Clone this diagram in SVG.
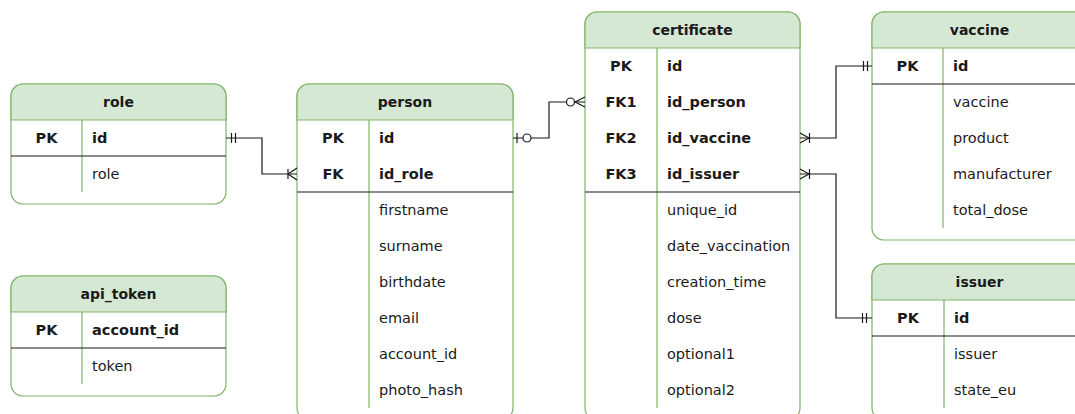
<svg xmlns="http://www.w3.org/2000/svg" width="1075" height="414" viewBox="0 0 1075 414">
<style>
.box{fill:#ffffff;stroke:#82b366;stroke-width:1.2}
.hd{fill:#d5e8d4;stroke:#82b366;stroke-width:1.2}
.dv{stroke:#82b366;stroke-width:1.2;fill:none}
.sp{stroke:#1a1a1a;stroke-width:1.2;fill:none}
text{font-family:"DejaVu Sans","Verdana",sans-serif;fill:#1a1a1a}
.h{font-size:14px;font-weight:bold;text-anchor:middle}
.k{font-size:14.5px;font-weight:bold;text-anchor:middle}
.fb{font-size:14.5px;font-weight:bold}
.f{font-size:14.5px}
.ln{stroke:#1a1a1a;stroke-width:1.2;fill:none}
.ci{stroke:#1a1a1a;stroke-width:1.2;fill:#ffffff}
</style>
<g id="role">
<rect class="box" x="11" y="84" width="215" height="120" rx="12"/>
<path class="hd" d="M11 120 V96 A12 12 0 0 1 23 84 H214 A12 12 0 0 1 226 96 V120 Z"/>
<line class="dv" x1="82" y1="120" x2="82" y2="192"/>
<line class="sp" x1="11" y1="156" x2="226" y2="156"/>
<text class="h" x="118.5" y="107">role</text>
<text class="k" x="46.5" y="143">PK</text>
<text class="fb" x="92" y="143">id</text>
<text class="f" x="92" y="179">role</text>
</g>
<g id="api_token">
<rect class="box" x="11" y="276" width="215" height="120" rx="12"/>
<path class="hd" d="M11 312 V288 A12 12 0 0 1 23 276 H214 A12 12 0 0 1 226 288 V312 Z"/>
<line class="dv" x1="82" y1="312" x2="82" y2="384"/>
<line class="sp" x1="11" y1="348" x2="226" y2="348"/>
<text class="h" x="118.5" y="299">api_token</text>
<text class="k" x="46.5" y="335">PK</text>
<text class="fb" x="92" y="335">account_id</text>
<text class="f" x="92" y="371">token</text>
</g>
<g id="person">
<rect class="box" x="297" y="84" width="216" height="336" rx="12"/>
<path class="hd" d="M297 120 V96 A12 12 0 0 1 309 84 H501 A12 12 0 0 1 513 96 V120 Z"/>
<line class="dv" x1="369" y1="120" x2="369" y2="408"/>
<line class="sp" x1="297" y1="192" x2="513" y2="192"/>
<text class="h" x="405" y="107">person</text>
<text class="k" x="333" y="143">PK</text>
<text class="fb" x="379" y="143">id</text>
<text class="k" x="333" y="179">FK</text>
<text class="fb" x="379" y="179">id_role</text>
<text class="f" x="379" y="215">firstname</text>
<text class="f" x="379" y="251">surname</text>
<text class="f" x="379" y="287">birthdate</text>
<text class="f" x="379" y="323">email</text>
<text class="f" x="379" y="359">account_id</text>
<text class="f" x="379" y="395">photo_hash</text>
</g>
<g id="certificate">
<rect class="box" x="585" y="12" width="215" height="408" rx="12"/>
<path class="hd" d="M585 48 V24 A12 12 0 0 1 597 12 H788 A12 12 0 0 1 800 24 V48 Z"/>
<line class="dv" x1="657" y1="48" x2="657" y2="408"/>
<line class="sp" x1="585" y1="192" x2="800" y2="192"/>
<text class="h" x="692.5" y="35">certificate</text>
<text class="k" x="621" y="71">PK</text>
<text class="fb" x="667" y="71">id</text>
<text class="k" x="621" y="107">FK1</text>
<text class="fb" x="667" y="107">id_person</text>
<text class="k" x="621" y="143">FK2</text>
<text class="fb" x="667" y="143">id_vaccine</text>
<text class="k" x="621" y="179">FK3</text>
<text class="fb" x="667" y="179">id_issuer</text>
<text class="f" x="667" y="215">unique_id</text>
<text class="f" x="667" y="251">date_vaccination</text>
<text class="f" x="667" y="287">creation_time</text>
<text class="f" x="667" y="323">dose</text>
<text class="f" x="667" y="359">optional1</text>
<text class="f" x="667" y="395">optional2</text>
</g>
<g id="vaccine">
<rect class="box" x="872" y="12" width="215" height="228" rx="12"/>
<path class="hd" d="M872 48 V24 A12 12 0 0 1 884 12 H1075 A12 12 0 0 1 1087 24 V48 Z"/>
<line class="dv" x1="943" y1="48" x2="943" y2="228"/>
<line class="sp" x1="872" y1="84" x2="1087" y2="84"/>
<text class="h" x="979.5" y="35">vaccine</text>
<text class="k" x="907.5" y="71">PK</text>
<text class="fb" x="953" y="71">id</text>
<text class="f" x="953" y="107">vaccine</text>
<text class="f" x="953" y="143">product</text>
<text class="f" x="953" y="179">manufacturer</text>
<text class="f" x="953" y="215">total_dose</text>
</g>
<g id="issuer">
<rect class="box" x="872" y="264" width="215" height="156" rx="12"/>
<path class="hd" d="M872 300 V276 A12 12 0 0 1 884 264 H1075 A12 12 0 0 1 1087 276 V300 Z"/>
<line class="dv" x1="944" y1="300" x2="944" y2="408"/>
<line class="sp" x1="872" y1="336" x2="1087" y2="336"/>
<text class="h" x="979.5" y="287">issuer</text>
<text class="k" x="908" y="323">PK</text>
<text class="fb" x="954" y="323">id</text>
<text class="f" x="954" y="359">issuer</text>
<text class="f" x="954" y="395">state_eu</text>
</g>
<g id="connectors">
<path class="ln" d="M226 138 H262 V174 H297"/>
<path class="ln" d="M231.5 133 V143 M235.5 133 V143"/>
<path class="ln" d="M288 169 V179 M297 168 L288 174 L297 180"/>
<path class="ln" d="M513 138 H549 V102 H585"/>
<path class="ln" d="M517 133 V143"/>
<circle class="ci" cx="527" cy="138" r="4"/>
<path class="ln" d="M585 97 L575 102 L585 107"/>
<circle class="ci" cx="570.5" cy="102" r="4"/>
<path class="ln" d="M800 138 H836 V66 H872"/>
<path class="ln" d="M800 133 L809 138 L800 143 M809.5 133 V143"/>
<path class="ln" d="M863.5 61 V71 M867.5 61 V71"/>
<path class="ln" d="M800 174 H836 V318 H872"/>
<path class="ln" d="M800 169 L809 174 L800 179 M809.5 169 V179"/>
<path class="ln" d="M862.5 313 V323 M866.5 313 V323"/>
</g>
</svg>
